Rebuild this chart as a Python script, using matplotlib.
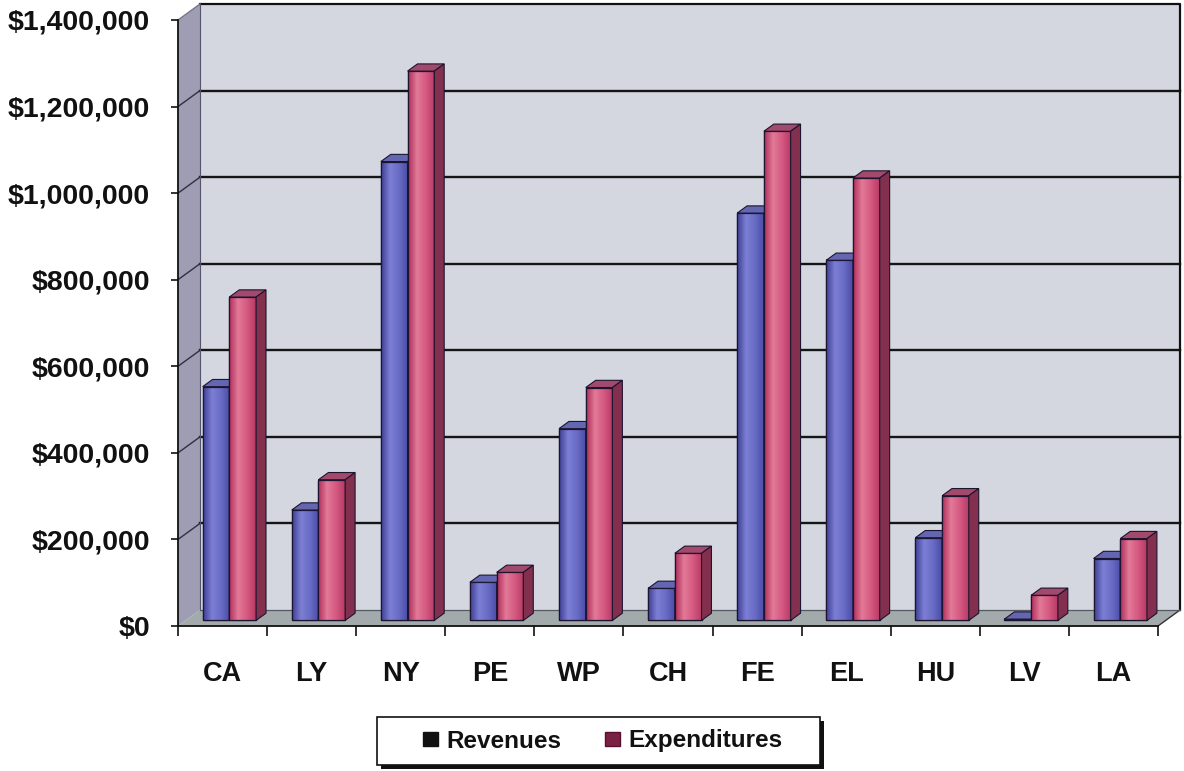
import numpy as np
import matplotlib
matplotlib.use("Agg")
import matplotlib.pyplot as plt
from matplotlib.patches import Polygon, Rectangle
from matplotlib.colors import LinearSegmentedColormap
from matplotlib.ticker import FuncFormatter

# ---- data ----
categories = ["CA", "LY", "NY", "PE", "WP", "CH", "FE", "EL", "HU", "LV", "LA"]
revenues = [540000, 255000, 1060000, 88000, 443000, 74000, 941000, 832000, 191000, 3000, 143000]
expenditures = [747000, 325000, 1269000, 111000, 538000, 155000, 1130000, 1022000, 288000, 58000, 189000]
y_ticks = [0, 200000, 400000, 600000, 800000, 1000000, 1200000, 1400000]
series_names = ["Revenues", "Expenditures"]

# ---- figure / axes ----
W, H = 1184, 771
fig = plt.figure(figsize=(W / 100, H / 100), dpi=100)
fig.patch.set_facecolor("white")
ax = fig.add_axes([178 / W, (H - 626) / H, 980 / W, 606 / H])
ax.patch.set_visible(False)

n = len(categories)
xmin, xmax = -0.5, n - 0.5
ymax = y_ticks[-1]

# oblique depth offset (in data units) for the pseudo-3D box
DX = 22 / 89
DY = 16 * ymax / 606

# ---- walls and floor ----
back = Polygon([(xmin + DX, DY), (xmax + DX, DY), (xmax + DX, ymax + DY), (xmin + DX, ymax + DY)],
               closed=True, fc="#d4d7df", ec="none", zorder=0.5, clip_on=False)
left = Polygon([(xmin, 0), (xmin + DX, DY), (xmin + DX, ymax + DY), (xmin, ymax)],
               closed=True, fc="#9e9db3", ec="none", zorder=0.6, clip_on=False)
floor = Polygon([(xmin, 0), (xmax, 0), (xmax + DX, DY), (xmin + DX, DY)],
                closed=True, fc="#a2aaac", ec="none", zorder=0.6, clip_on=False)
for p in (back, left, floor):
    ax.add_patch(p)

# wall outlines
ax.plot([xmin + DX, xmax + DX, xmax + DX], [ymax + DY, ymax + DY, DY], color="#111111", lw=1.6,
        zorder=0.9, clip_on=False)
ax.plot([xmin, xmin + DX], [ymax, ymax + DY], color="#777788", lw=1.0, zorder=0.9, clip_on=False)
ax.plot([xmin + DX, xmin + DX], [DY, ymax + DY], color="#55556a", lw=0.8, zorder=0.9, clip_on=False)
ax.plot([xmax, xmax + DX], [0, DY], color="#333333", lw=1.0, zorder=0.9, clip_on=False)
ax.plot([xmin + DX, xmax + DX], [DY, DY], color="#555a60", lw=0.9, zorder=0.9, clip_on=False)

# gridlines on back and left walls
for v in y_ticks[1:-1]:
    ax.plot([xmin + DX, xmax + DX], [v + DY, v + DY], color="#151515", lw=1.7, zorder=0.8, clip_on=False)
    ax.plot([xmin, xmin + DX], [v, v + DY], color="#303040", lw=1.0, zorder=0.8, clip_on=False)

# ---- bars ----
d0, d1 = 0.35, 0.80          # front and back depth of the bars
bw = 0.30
offsets = [-0.16, 0.14]

styles = [
    dict(grad=["#3e3f96", "#7c7fd4", "#6a6dc6", "#4a4ca6"], top="#6366b0", side="#393b82"),
    dict(grad=["#b02e5a", "#e27a98", "#d55a82", "#b83a64"], top="#a24a6c", side="#83304f"),
]
cmaps = [LinearSegmentedColormap.from_list(f"g{k}", s["grad"]) for k, s in enumerate(styles)]
grad = np.linspace(0, 1, 64).reshape(1, -1)
edge = "#1c1430"

x = np.arange(n)
for i in range(n):
    for k, vals in enumerate((revenues, expenditures)):
        h = vals[i]
        xc = x[i] + offsets[k] + d0 * DX
        base = d0 * DY
        z = 2 + i * 0.01 + k * 0.004
        bars = ax.bar([xc], [h], width=bw, bottom=base, color=styles[k]["grad"][2],
                      edgecolor=edge, linewidth=0.9, zorder=z)
        rect = bars.patches[0]
        x0, x1 = xc - bw / 2, xc + bw / 2
        ax.imshow(grad, extent=[x0, x1, base, base + h], aspect="auto", cmap=cmaps[k],
                  zorder=z + 0.0005, clip_path=rect, interpolation="bilinear")
        # outline again above the gradient
        ax.add_patch(Rectangle((x0, base), bw, h, fill=False, ec=edge, lw=0.9, zorder=z + 0.001))
        ddx, ddy = (d1 - d0) * DX, (d1 - d0) * DY
        top = Polygon([(x0, base + h), (x1, base + h), (x1 + ddx, base + h + ddy), (x0 + ddx, base + h + ddy)],
                      closed=True, fc=styles[k]["top"], ec=edge, lw=0.8, zorder=z + 0.002)
        side = Polygon([(x1, base), (x1 + ddx, base + ddy), (x1 + ddx, base + h + ddy), (x1, base + h)],
                       closed=True, fc=styles[k]["side"], ec=edge, lw=0.8, zorder=z + 0.002)
        ax.add_patch(top)
        ax.add_patch(side)

ax.set_xlim(xmin, xmax)
ax.set_ylim(0, ymax)

# ---- axes, ticks, labels ----
for s in ("top", "right"):
    ax.spines[s].set_visible(False)
for s in ("left", "bottom"):
    ax.spines[s].set_color("#111111")
    ax.spines[s].set_linewidth(1.3)
    ax.spines[s].set_zorder(5)

ax.set_yticks(y_ticks)
ax.yaxis.set_major_formatter(FuncFormatter(lambda v, p: f"${v:,.0f}"))
ax.tick_params(axis="y", length=5, width=1.2, pad=15, colors="#111111")
for lbl in ax.get_yticklabels():
    lbl.set_fontfamily("Liberation Sans")
    lbl.set_fontweight("bold")
    lbl.set_fontsize(20.5)

ax.set_xticks(x)
ax.set_xticklabels(categories)
ax.set_xticks(np.arange(xmin, xmax + 0.01, 1.0), minor=True)
ax.tick_params(axis="x", which="major", length=0, pad=25)
ax.tick_params(axis="x", which="minor", length=7.5, width=1.2, colors="#111111")
for lbl in ax.get_xticklabels():
    lbl.set_fontfamily("Liberation Sans")
    lbl.set_fontweight("bold")
    lbl.set_fontsize(19.5)
    lbl.set_color("#111111")

# ---- legend: framed box with a solid drop shadow ----
bx0, by0, bx1, by1 = 377, 717, 820, 765
fig.add_artist(Rectangle(((bx0 + 4) / W, 1 - (by1 + 4) / H), (bx1 - bx0) / W, (by1 - by0) / H,
                         transform=fig.transFigure, fc="#111111", ec="none", zorder=3))
fig.add_artist(Rectangle((bx0 / W, 1 - by1 / H), (bx1 - bx0) / W, (by1 - by0) / H,
                         transform=fig.transFigure, fc="white", ec="#111111", lw=1.2, zorder=3.1))
handles = [Rectangle((0, 0), 1, 1, fc="#111111", ec="#111111"),
           Rectangle((0, 0), 1, 1, fc="#7a2242", ec="#5a1030")]
leg = fig.legend(handles, series_names, loc="center",
                 bbox_to_anchor=(603 / W, 1 - 741 / H), ncol=2, frameon=False,
                 prop=dict(family="Liberation Sans", weight="bold", size=17.5),
                 handlelength=0.6, handleheight=0.55, handletextpad=0.35,
                 columnspacing=1.8, borderpad=0.2, borderaxespad=0)
leg.set_zorder(4)
for t in leg.get_texts():
    t.set_color("#111111")

fig.savefig("out.png", dpi=100)
